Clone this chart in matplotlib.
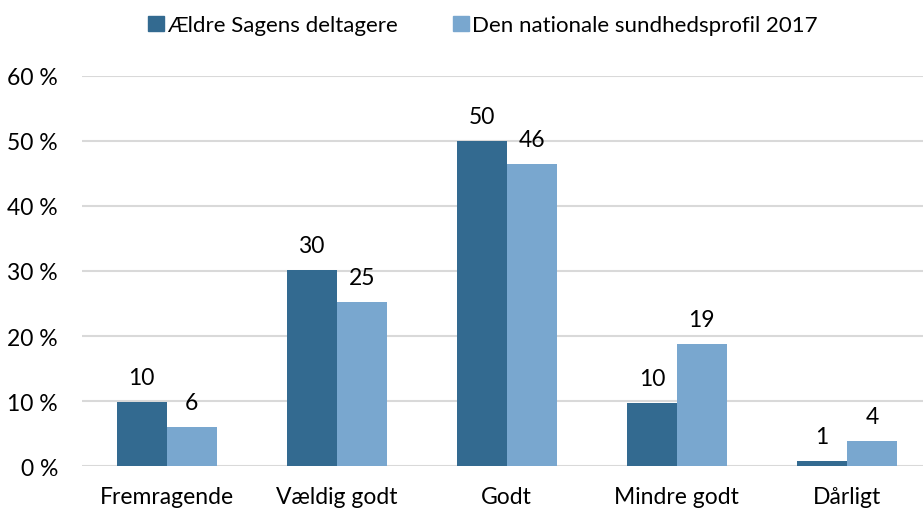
import matplotlib
matplotlib.use("Agg")
import matplotlib.pyplot as plt
import numpy as np
from matplotlib.patches import Patch

categories = ["Fremragende", "Vældig godt", "Godt", "Mindre godt", "Dårligt"]
series_names = ["Ældre Sagens deltagere", "Den nationale sundhedsprofil 2017"]
aeldre = [9.9, 30.2, 50.0, 9.8, 0.8]
national = [6.1, 25.3, 46.4, 18.8, 3.9]
aeldre_labels = ["10", "30", "50", "10", "1"]
national_labels = ["6", "25", "46", "19", "4"]
yticks = [0, 10, 20, 30, 40, 50, 60]
ytick_labels = ["0 %", "10 %", "20 %", "30 %", "40 %", "50 %", "60 %"]

c_dark = "#336A90"
c_light = "#79A7CF"
plt.rcParams['font.family'] = ['Lato', 'DejaVu Sans']
FS = 16.5

W, H = 923, 510
fig = plt.figure(figsize=(W / 100, H / 100), dpi=100)
left_px, right_px = 81.5, 932
bot_px, top_px = 467.3, 76.7
ymax = 60
ax = fig.add_axes([left_px / W, (H - bot_px) / H, (right_px - left_px) / W, (bot_px - top_px) / H])

x = np.arange(len(categories))
bw = 0.294
ax.bar(x - bw / 2, aeldre, bw, color=c_dark, zorder=3)
ax.bar(x + bw / 2, national, bw, color=c_light, zorder=3)

off = 18 / ((bot_px - top_px) / ymax)
for xi, v, lab in zip(x, aeldre, aeldre_labels):
    ax.text(xi - bw / 2, v + off, lab, ha="center", va="baseline", fontsize=FS, color="#000000")
for xi, v, lab in zip(x, national, national_labels):
    ax.text(xi + bw / 2, v + off, lab, ha="center", va="baseline", fontsize=FS, color="#000000")

ax.set_xlim(-0.5, len(categories) - 0.5)
ax.set_ylim(0, ymax)
ax.set_yticks(yticks)
ax.set_yticklabels(ytick_labels, fontsize=FS)
ax.set_xticks(x)
ax.set_xticklabels(categories, fontsize=FS)
ax.tick_params(axis="both", length=0, colors="#000000")
ax.tick_params(axis="y", pad=17)
ax.tick_params(axis="x", pad=14)
ax.grid(axis="y", color="#D9D9D9", linewidth=1.5, zorder=0)
for s in ax.spines.values():
    s.set_visible(False)

handles = [Patch(color=c_dark), Patch(color=c_light)]
fig.legend(handles, series_names, loc="center", bbox_to_anchor=(483 / W, 1 - 26 / H), ncol=2,
           frameon=False, fontsize=16, handlelength=0.7, handleheight=0.68, handletextpad=0.15,
           columnspacing=2.5, borderpad=0, borderaxespad=0)

fig.savefig("out.png", dpi=100)
